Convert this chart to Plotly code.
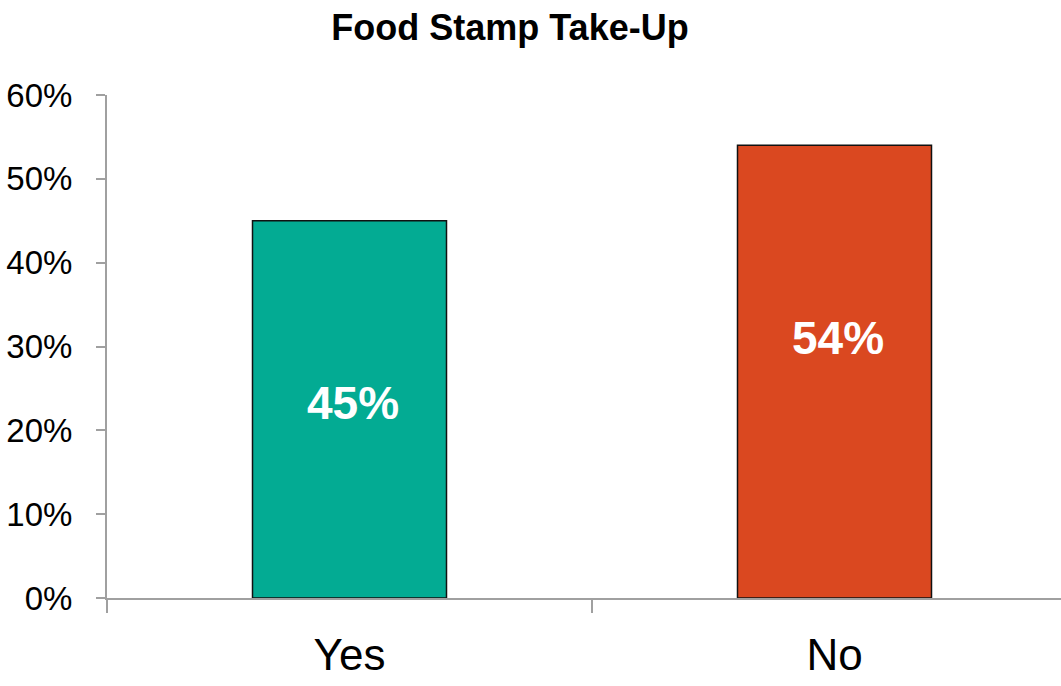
import plotly.graph_objects as go

categories = ["Yes", "No"]
values = [45, 54]
bar_colors = ["#03AB93", "#DA4820"]
label_shift_px = [6, 34]

FONT = "Arial, Liberation Sans, sans-serif"

fig = go.Figure()
fig.add_trace(go.Bar(
    x=categories, y=values, width=0.4,
    marker=dict(color=bar_colors, line=dict(color="#111111", width=1.5)),
    hoverinfo="skip",
))

for c, v, s in zip(categories, values, label_shift_px):
    fig.add_annotation(x=c, y=v / 2, text=f"<b>{v}%</b>", showarrow=False,
                       xshift=3, yshift=s, font=dict(family=FONT, size=46, color="white"))

fig.update_layout(
    width=1061, height=686,
    margin=dict(l=107, r=0, t=95, b=88, autoexpand=False),
    plot_bgcolor="white", paper_bgcolor="white",
    showlegend=False,
    title=dict(text="<b>Food Stamp Take-Up</b>", x=510 / 1061, xref="container", xanchor="center",
               y=1 - 27 / 686, yref="container", yanchor="middle",
               font=dict(family=FONT, size=36, color="black")),
    xaxis=dict(type="category", range=[-0.5, 1.467], showgrid=False, automargin=False,
               showline=True, linecolor="#a0a0a0", linewidth=2,
               ticks="outside", tickson="boundaries", ticklen=13, tickwidth=2, tickcolor="#a0a0a0",
               tickfont=dict(family=FONT, size=44, color="black"), ticklabelstandoff=17),
    yaxis=dict(range=[0, 60], dtick=10, showgrid=False, zeroline=False, automargin=False,
               showline=True, linecolor="#a0a0a0", linewidth=2,
               ticks="outside", ticklen=9, tickwidth=2, tickcolor="#a0a0a0",
               ticksuffix="%", tickfont=dict(family=FONT, size=33, color="black"),
               ticklabelstandoff=17),
)

fig.write_html("out.html")
